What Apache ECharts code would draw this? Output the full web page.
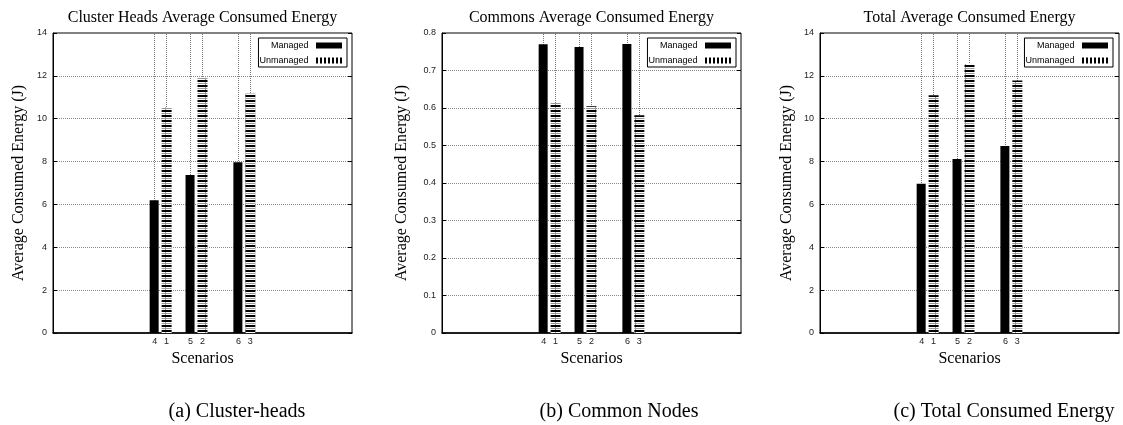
<!DOCTYPE html>
<html>
<head>
<meta charset="utf-8">
<script src="https://cdn.jsdelivr.net/npm/echarts@6/dist/echarts.min.js"></script>
<style>
  html, body { margin: 0; padding: 0; background: #fff; }
  #main { width: 1123px; height: 425px; }
</style>
</head>
<body>
<div id="main"></div>
<script>
// scenario positions on the x axis and their labels
var scenarioTicks = [8.5, 9.5, 11.5, 12.5, 15.5, 16.5];
var scenarioLabels = ['4', '1', '5', '2', '6', '3'];
var managedPos = [8.5, 11.5, 15.5];
var unmanagedPos = [9.5, 12.5, 16.5];

// average consumed energy (J)
var headsManaged = [6.2, 7.37, 7.97];
var headsUnmanaged = [10.53, 11.91, 11.18];
var commonsManaged = [0.77, 0.763, 0.771];
var commonsUnmanaged = [0.614, 0.605, 0.581];
var totalManaged = [6.97, 8.12, 8.73];
var totalUnmanaged = [11.1, 12.55, 11.78];

var panelTitles = ['Cluster Heads Average Consumed Energy', 'Commons Average Consumed Energy', 'Total Average Consumed Energy'];
var captions = ['(a) Cluster-heads', '(b) Common Nodes', '(c) Total Consumed Energy'];
var yMax = [14, 0.8, 14];
var yStep = [2, 0.1, 2];

var managedSets = [headsManaged, commonsManaged, totalManaged];
var unmanagedSets = [headsUnmanaged, commonsUnmanaged, totalUnmanaged];

// layout of the three panels
var gridLeft = [53, 442, 820];
var gridW = 299;
var gridTop = 33;
var gridH = 300;
var legendRight = [776, 387, 10];
var yNameGap = [26, 32, 25];
var captionX = [237, 619, 1004];

function hatchFill() {
  var c = document.createElement('canvas');
  c.width = 10; c.height = 5;
  var g = c.getContext('2d');
  g.fillStyle = '#fff'; g.fillRect(0, 0, 10, 5);
  g.fillStyle = '#000'; g.fillRect(0, 0, 10, 2);
  g.fillStyle = '#999'; g.fillRect(0, 3, 10, 1); g.fillRect(5, 2, 1, 3);
  return c;
}
function stripeFill() {
  var c = document.createElement('canvas');
  c.width = 4; c.height = 8;
  var g = c.getContext('2d');
  g.fillStyle = '#fff'; g.fillRect(0, 0, 4, 8);
  g.fillStyle = '#000'; g.fillRect(0, 0, 2, 8);
  return c;
}
var hatch = { image: hatchFill(), repeat: 'repeat' };
var stripes = { image: stripeFill(), repeat: 'repeat' };

var serif = 'Liberation Serif';
var sans = 'Liberation Sans';

var grids = [], xAxes = [], yAxes = [], series = [], legends = [], graphics = [];

for (var i = 0; i < 3; i++) {
  grids.push({
    left: gridLeft[i], top: gridTop, width: gridW, height: gridH,
    show: true, borderColor: '#000', borderWidth: 1
  });
  xAxes.push({
    type: 'value', gridIndex: i, min: 0, max: 25, interval: 0.5,
    name: 'Scenarios', nameLocation: 'middle', nameGap: 14,
    nameTextStyle: { fontFamily: serif, fontSize: 16, color: '#000' },
    axisLine: { show: true, lineStyle: { color: '#000', width: 1.5 } },
    axisTick: { show: false },
    splitLine: { show: false },
    axisLabel: {
      margin: 4, fontFamily: sans, fontSize: 9, color: '#222',
      formatter: function (v) {
        var k = scenarioTicks.indexOf(Math.round(v * 2) / 2);
        return k >= 0 ? scenarioLabels[k] : '';
      }
    }
  });
  yAxes.push({
    type: 'value', gridIndex: i, min: 0, max: yMax[i], interval: yStep[i],
    name: 'Average Consumed Energy (J)', nameLocation: 'middle', nameGap: yNameGap[i],
    nameTextStyle: { fontFamily: serif, fontSize: 16, color: '#000' },
    axisLine: { show: true, lineStyle: { color: '#000', width: 1 } },
    axisTick: { show: true, inside: true, length: 4, lineStyle: { color: '#000' } },
    axisLabel: { margin: 6, fontFamily: sans, fontSize: 9, color: '#222' },
    splitLine: { show: true, lineStyle: { color: '#888', type: 'dotted', width: 1 } }
  });
  yAxes.push({
    type: 'value', gridIndex: i, position: 'right', min: 0, max: yMax[i], interval: yStep[i],
    axisLine: { show: false },
    axisTick: { show: true, inside: true, length: 4, lineStyle: { color: '#000' } },
    axisLabel: { show: false },
    splitLine: { show: false }
  });

  series.push({
    type: 'bar', name: 'Managed', xAxisIndex: i, yAxisIndex: 2 * i,
    barWidth: 9, barGap: '-100%', z: 2,
    itemStyle: { color: '#000' },
    data: managedPos.map(function (x, k) { return [x, managedSets[this][k]]; }, i),
    markLine: {
      silent: true, symbol: 'none', z: 1, animation: false,
      label: { show: false },
      lineStyle: { color: '#777', type: 'dotted', width: 1 },
      data: scenarioTicks.map(function (x) { return { xAxis: x }; })
    }
  });
  series.push({
    type: 'bar', name: 'Unmanaged', xAxisIndex: i, yAxisIndex: 2 * i,
    barWidth: 10, barGap: '-100%', z: 2,
    itemStyle: { color: hatch },
    data: unmanagedPos.map(function (x, k) { return [x, unmanagedSets[this][k]]; }, i)
  });

  legends.push({
    orient: 'vertical', right: legendRight[i], top: 38, align: 'right',
    itemWidth: 26, itemHeight: 6, itemGap: 6,
    borderColor: '#000', borderWidth: 1, borderRadius: 0, padding: [3, 5, 2, 1],
    selectedMode: false,
    formatter: function (name) { return name + ' '; },
    textStyle: { fontFamily: sans, fontSize: 9, color: '#000' },
    data: [
      { name: 'Managed', icon: 'rect', itemStyle: { color: '#000', borderWidth: 0 } },
      { name: 'Unmanaged', icon: 'rect', itemStyle: { color: stripes, borderWidth: 0 } }
    ]
  });

  graphics.push({
    type: 'text', x: gridLeft[i] + gridW / 2, y: 18,
    style: { text: panelTitles[i], align: 'center', verticalAlign: 'middle',
      fontFamily: serif, fontSize: 16, fill: '#000' }
  });
  graphics.push({
    type: 'text', x: captionX[i], y: 412,
    style: { text: captions[i], align: 'center', verticalAlign: 'middle',
      fontFamily: serif, fontSize: 20, fill: '#000' }
  });
}

var chart = echarts.init(document.getElementById('main'));
chart.setOption({
  animation: false,
  backgroundColor: '#fff',
  grid: grids,
  xAxis: xAxes,
  yAxis: yAxes,
  legend: legends,
  graphic: graphics,
  series: series
});
</script>
</body>
</html>
